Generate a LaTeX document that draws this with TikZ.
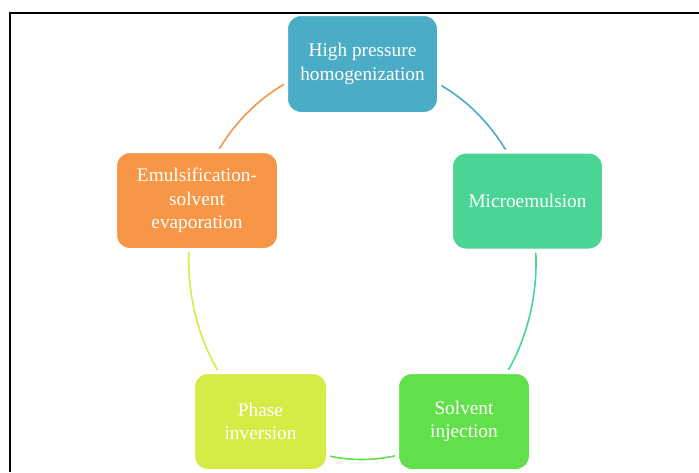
\documentclass[tikz,border=0pt]{standalone}
\usepackage{fontspec}
\setmainfont{Liberation Serif}
\usetikzlibrary{backgrounds}
\definecolor{cTop}{HTML}{4BACC6}
\definecolor{cMicro}{HTML}{4AD594}
\definecolor{cSolv}{HTML}{62E04B}
\definecolor{cPhase}{HTML}{D5EB46}
\definecolor{cEmul}{HTML}{F79646}
\begin{document}
\begin{tikzpicture}[x=1pt,y=1pt,
  boxnode/.style={rounded corners=15pt, draw=white, line width=4pt, text=white,
    align=center, inner sep=0pt, font=\fontsize{19.3}{23.5}\selectfont},
  ring/.style={line width=1.6pt},
  frameline/.style={line width=2.3pt, draw=black}]
\useasboundingbox (0,0) rectangle (699,-472);
\node[boxnode, fill=cTop, minimum width=153pt, minimum height=100pt] (hph) at (362.5,-64) {High pressure\\homogenization};
\node[boxnode, fill=cMicro, minimum width=153pt, minimum height=99pt] (micro) at (527.5,-201) {Microemulsion};
\node[boxnode, fill=cSolv, minimum width=134pt, minimum height=99pt] (solv) at (464,-421.5) {Solvent\\injection};
\node[boxnode, fill=cPhase, minimum width=135pt, minimum height=99pt] (phase) at (260.5,-421.5) {Phase\\inversion};
\node[boxnode, fill=cEmul, minimum width=164pt, minimum height=99pt] (emul) at (197,-200.5) {Emulsification-\\solvent\\evaporation};
\begin{scope}[on background layer]
\draw[ring, draw=cTop] (hph.center) arc[start angle=90, end angle=18, x radius=174pt, y radius=199pt];
\draw[ring, draw=cMicro] (micro.center) arc[start angle=18, end angle=-54, x radius=174pt, y radius=199pt];
\draw[ring, draw=cSolv] (solv.center) arc[start angle=-54, end angle=-126, x radius=174pt, y radius=199pt];
\draw[ring, draw=cPhase] (phase.center) arc[start angle=234, end angle=162, x radius=174pt, y radius=199pt];
\draw[ring, draw=cEmul] (emul.center) arc[start angle=162, end angle=90, x radius=174pt, y radius=199pt];
\end{scope}
\coordinate (fbl) at (10.2,-472);
\coordinate (ftl) at (10.2,-13.2);
\coordinate (ftr) at (699,-13.2);
\draw[frameline] (fbl) -- (ftl) -- (ftr);
\end{tikzpicture}
\end{document}
